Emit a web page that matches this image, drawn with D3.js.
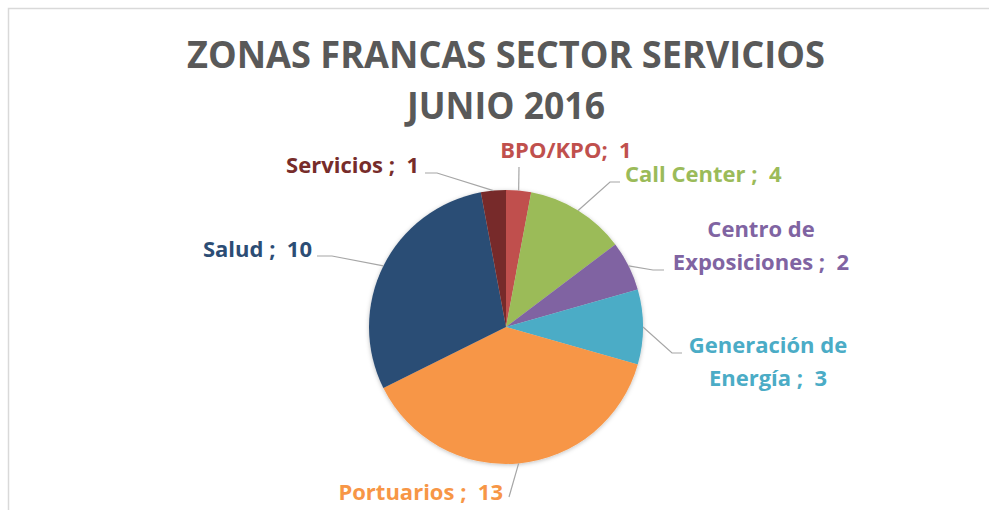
<!DOCTYPE html>
<html>
<head>
<meta charset="utf-8">
<script src="https://cdn.jsdelivr.net/npm/d3@7"></script>
<style>
  body { margin: 0; background: #fff; }
  svg text { font-family: "Open Sans", sans-serif; font-weight: bold; white-space: pre; }
</style>
</head>
<body>
<svg id="chart" width="989" height="510"></svg>
<script>
// data (clockwise from 12 o'clock)
var categories = ['BPO/KPO', 'Call Center', 'Centro de Exposiciones', 'Generación de Energía', 'Portuarios', 'Salud', 'Servicios'];
var values = [1, 4, 2, 3, 13, 10, 1];
var titleLines = ['ZONAS FRANCAS SECTOR SERVICIOS', 'JUNIO 2016'];

// label text split in lines, as Excel wrapped them
var labelLines = [
    ['BPO/KPO;  1'],
    ['Call Center ;  4'],
    ['Centro de', 'Exposiciones ;  2'],
    ['Generación de', 'Energía ;  3'],
    ['Portuarios ;  13'],
    ['Salud ;  10'],
    ['Servicios ;  1']
];

var colors = ['#C0504D', '#9BBB59', '#8064A2', '#4BACC6', '#F79646', '#2C4D75', '#772C2A'];

// title layout: baseline and width of each line (Calibri is narrower than Open Sans)
var titleLayout = [
    {y: 68, len: 638},
    {y: 119, len: 198}
];

// manual label placement (like dragged data labels in Excel)
// x, y = anchor of first baseline, anchor = text-anchor, elbow = where leader bends
var labelLayout = [
    {x: 566, y: 158, anchor: 'middle', elbow: null, end: [519, 167]},
    {x: 625, y: 182, anchor: 'start', elbow: [610, 182], end: [620, 182]},
    {x: 761, y: 237, anchor: 'middle', elbow: [653, 270], end: [664, 270]},
    {x: 768, y: 353, anchor: 'middle', elbow: [672, 353], end: [682, 353]},
    {x: 503, y: 500, anchor: 'end', elbow: null, end: [509, 497]},
    {x: 312, y: 257, anchor: 'end', elbow: [332, 256], end: [317, 256]},
    {x: 419, y: 173, anchor: 'end', elbow: [437, 173], end: [425, 173]}
];

var w = 989, h = 510;
var cx = 506, cy = 327, radius = 137;

var svg = d3.select('svg#chart');

// chart area border (cropped at right and bottom)
svg.append('rect')
    .attr('x', 8.5)
    .attr('y', 8.5)
    .attr('width', w + 20)
    .attr('height', h + 20)
    .attr('fill', '#fff')
    .attr('stroke', '#D9D9D9')
    .attr('stroke-width', 1.5);

// title
svg.selectAll('text.title')
    .data(titleLines)
    .join('text')
    .classed('title', true)
    .attr('x', 506)
    .attr('y', function(d, i) { return titleLayout[i].y; })
    .attr('text-anchor', 'middle')
    .attr('textLength', function(d, i) { return titleLayout[i].len; })
    .attr('lengthAdjust', 'spacingAndGlyphs')
    .attr('fill', '#595959')
    .style('font-size', '38px')
    .text(function(d) { return d; });

var defs = svg.append('defs');
var shadow = defs.append('filter')
    .attr('id', 'shadow')
    .attr('x', '-10%').attr('y', '-10%')
    .attr('width', '120%').attr('height', '120%');
shadow.append('feDropShadow')
    .attr('dx', 0).attr('dy', 1)
    .attr('stdDeviation', 2)
    .attr('flood-color', '#000')
    .attr('flood-opacity', 0.25);

var pie = d3.pie().sort(null).value(function(d) { return d; });
var arcs = pie(values);

var arc = d3.arc().innerRadius(0).outerRadius(radius);
var edgeArc = d3.arc().innerRadius(radius).outerRadius(radius);

var g = svg.append('g')
    .attr('transform', 'translate(' + cx + ',' + cy + ')');

g.append('g')
    .attr('filter', 'url(#shadow)')
    .selectAll('path.slice')
    .data(arcs)
    .join('path')
    .classed('slice', true)
    .attr('d', arc)
    .attr('fill', function(d, i) { return colors[i]; });

// leader lines: from slice edge at mid angle to the label
svg.selectAll('polyline.leader')
    .data(arcs)
    .join('polyline')
    .classed('leader', true)
    .attr('fill', 'none')
    .attr('stroke', '#A6A6A6')
    .attr('stroke-width', 1.2)
    .attr('points', function(d, i) {
        var c = edgeArc.centroid(d);
        var start = [cx + c[0], cy + c[1]];
        var L = labelLayout[i];
        var pts = L.elbow == null ? [start, L.end] : [start, L.elbow, L.end];
        return pts.map(function(p) { return p.join(','); }).join(' ');
    });

// data labels
svg.selectAll('text.label')
    .data(arcs)
    .join('text')
    .classed('label', true)
    .attr('x', function(d, i) { return labelLayout[i].x; })
    .attr('y', function(d, i) { return labelLayout[i].y; })
    .attr('text-anchor', function(d, i) { return labelLayout[i].anchor; })
    .attr('fill', function(d, i) { return colors[i]; })
    .style('font-size', '22px')
    .each(function(d, i) {
        var t = d3.select(this);
        labelLines[i].forEach(function(line, j) {
            t.append('tspan')
                .attr('x', labelLayout[i].x)
                .attr('dy', j === 0 ? 0 : 33)
                .text(line);
        });
    });
</script>
</body>
</html>
